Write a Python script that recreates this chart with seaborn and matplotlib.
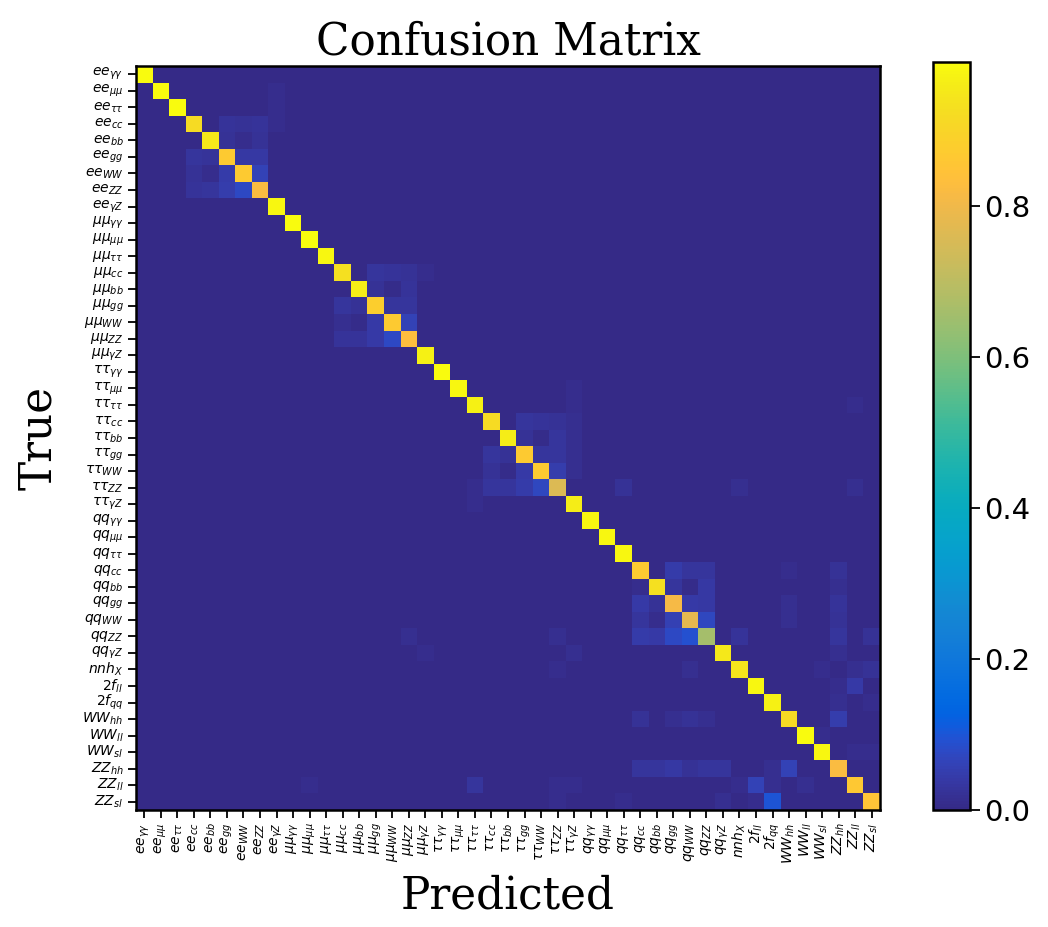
import numpy as np
import pandas as pd
import matplotlib
matplotlib.use('Agg')
import matplotlib.pyplot as plt
from matplotlib.colors import LinearSegmentedColormap
import seaborn as sns

# class labels (mathtext)
prefixes = ['ee', r'\mu\mu', r'\tau\tau', 'qq']
decays = [r'\gamma\gamma', r'\mu\mu', r'\tau\tau', 'cc', 'bb', 'gg', 'WW', 'ZZ', r'\gamma Z']
extra = ['nnh_{X}', '2f_{ll}', '2f_{qq}', 'WW_{hh}', 'WW_{ll}', 'WW_{sl}', 'ZZ_{hh}', 'ZZ_{ll}', 'ZZ_{sl}']
labels = [f'${p}_{{{d}}}$' for p in prefixes for d in decays] + [f'${e}$' for e in extra]

# diagonal (efficiency per class)
diag = [0.99, 0.99, 0.99, 0.92, 0.95, 0.87, 0.87, 0.82, 0.98,
        0.99, 0.99, 0.98, 0.93, 0.96, 0.88, 0.87, 0.83, 0.97,
        0.99, 0.98, 0.97, 0.92, 0.96, 0.87, 0.87, 0.76, 0.96,
        0.98, 0.98, 0.98, 0.87, 0.93, 0.81, 0.78, 0.66, 0.95,
        0.94, 0.98, 0.97, 0.92, 0.99, 0.98, 0.82, 0.86, 0.85]

# off-diagonal confusions: (true row, predicted col, fraction)
off_rows = [1, 2, 3, 3, 3, 3, 4, 4, 4, 5, 5, 5, 5, 6, 6, 6, 6, 7, 7, 7, 7,
            12, 12, 12, 12, 13, 13, 13, 14, 14, 14, 14, 15, 15, 15, 15, 16, 16, 16, 16,
            19, 20, 20, 21, 21, 21, 21, 22, 22, 22, 22, 23, 23, 23, 23, 23, 24, 24, 24, 24, 24,
            25, 25, 25, 25, 25, 25, 25, 25, 26,
            30, 30, 30, 30, 30, 31, 31, 31, 31, 31, 32, 32, 32, 32, 32, 32, 33, 33, 33, 33, 33, 33,
            34, 34, 34, 34, 34, 34, 34, 34, 34, 35, 35, 35, 36, 36, 36, 36, 36,
            37, 37, 38, 38, 39, 39, 39, 39, 39, 40, 41, 41,
            42, 42, 42, 42, 42, 42, 42, 42, 43, 43, 43, 43, 43, 43, 43, 43,
            44, 44, 44, 44, 44]
off_cols = [8, 8, 5, 6, 7, 8, 5, 6, 7, 3, 4, 6, 7, 3, 4, 5, 7, 3, 4, 5, 6,
            14, 15, 16, 17, 14, 15, 16, 12, 13, 15, 16, 12, 13, 14, 16, 12, 13, 14, 15,
            26, 26, 43, 23, 24, 25, 26, 23, 24, 25, 26, 21, 22, 24, 25, 26, 21, 22, 23, 25, 26,
            20, 21, 22, 23, 24, 29, 36, 43, 20,
            32, 33, 34, 39, 42, 30, 32, 33, 34, 42, 30, 31, 33, 34, 39, 42, 30, 31, 32, 34, 39, 42,
            16, 25, 30, 31, 32, 33, 36, 42, 44, 17, 26, 42, 25, 33, 41, 43, 44,
            42, 43, 42, 44, 30, 32, 33, 34, 42, 41, 43, 44,
            30, 31, 32, 33, 34, 35, 38, 39, 10, 20, 25, 26, 36, 37, 38, 40,
            25, 29, 35, 37, 38]
off_vals = [0.008, 0.008, 0.025, 0.02, 0.025, 0.008, 0.02, 0.008, 0.02,
            0.03, 0.025, 0.035, 0.035, 0.02, 0.008, 0.045, 0.06, 0.025, 0.03, 0.05, 0.075,
            0.03, 0.025, 0.02, 0.008, 0.02, 0.005, 0.025, 0.03, 0.02, 0.03, 0.03,
            0.015, 0.005, 0.04, 0.06, 0.025, 0.025, 0.04, 0.075,
            0.008, 0.01, 0.008, 0.03, 0.025, 0.02, 0.012, 0.02, 0.005, 0.03, 0.012,
            0.03, 0.02, 0.03, 0.03, 0.012, 0.02, 0.005, 0.04, 0.05, 0.012,
            0.01, 0.03, 0.03, 0.045, 0.07, 0.02, 0.015, 0.015, 0.01,
            0.045, 0.03, 0.03, 0.01, 0.02, 0.01, 0.03, 0.005, 0.035, 0.015,
            0.04, 0.02, 0.04, 0.035, 0.015, 0.025, 0.03, 0.008, 0.055, 0.07, 0.015, 0.02,
            0.015, 0.015, 0.045, 0.04, 0.075, 0.09, 0.025, 0.03, 0.02,
            0.01, 0.015, 0.015, 0.01, 0.015, 0.01, 0.015, 0.02,
            0.01, 0.04, 0.015, 0.01, 0.02, 0.015, 0.02, 0.015, 0.05,
            0.008, 0.008, 0.01,
            0.03, 0.03, 0.035, 0.02, 0.03, 0.03, 0.015, 0.06,
            0.008, 0.03, 0.01, 0.01, 0.01, 0.06, 0.015, 0.015,
            0.008, 0.008, 0.015, 0.01, 0.1]

# MATLAB parula colour table
parula = [
    [0.2081, 0.1663, 0.5292], [0.2116, 0.1898, 0.5777], [0.2123, 0.2138, 0.6270],
    [0.2081, 0.2386, 0.6771], [0.1959, 0.2645, 0.7279], [0.1707, 0.2919, 0.7792],
    [0.1253, 0.3242, 0.8303], [0.0591, 0.3598, 0.8683], [0.0117, 0.3875, 0.8820],
    [0.0060, 0.4086, 0.8828], [0.0165, 0.4266, 0.8786], [0.0329, 0.4430, 0.8720],
    [0.0498, 0.4586, 0.8641], [0.0629, 0.4737, 0.8554], [0.0723, 0.4887, 0.8467],
    [0.0779, 0.5040, 0.8384], [0.0793, 0.5200, 0.8312], [0.0749, 0.5375, 0.8263],
    [0.0641, 0.5570, 0.8240], [0.0488, 0.5772, 0.8228], [0.0343, 0.5966, 0.8199],
    [0.0265, 0.6137, 0.8135], [0.0239, 0.6287, 0.8038], [0.0231, 0.6418, 0.7913],
    [0.0228, 0.6535, 0.7768], [0.0267, 0.6642, 0.7607], [0.0384, 0.6743, 0.7436],
    [0.0590, 0.6838, 0.7254], [0.0843, 0.6928, 0.7062], [0.1133, 0.7015, 0.6859],
    [0.1453, 0.7098, 0.6646], [0.1801, 0.7177, 0.6424], [0.2178, 0.7250, 0.6193],
    [0.2586, 0.7317, 0.5954], [0.3022, 0.7376, 0.5712], [0.3482, 0.7424, 0.5473],
    [0.3953, 0.7459, 0.5244], [0.4420, 0.7481, 0.5033], [0.4871, 0.7491, 0.4840],
    [0.5300, 0.7491, 0.4661], [0.5709, 0.7485, 0.4494], [0.6099, 0.7473, 0.4337],
    [0.6473, 0.7456, 0.4188], [0.6834, 0.7435, 0.4044], [0.7184, 0.7411, 0.3905],
    [0.7525, 0.7384, 0.3768], [0.7858, 0.7356, 0.3633], [0.8185, 0.7327, 0.3498],
    [0.8507, 0.7299, 0.3360], [0.8824, 0.7274, 0.3217], [0.9139, 0.7258, 0.3063],
    [0.9450, 0.7261, 0.2886], [0.9739, 0.7314, 0.2666], [0.9938, 0.7455, 0.2403],
    [0.9990, 0.7653, 0.2164], [0.9955, 0.7861, 0.1967], [0.9880, 0.8066, 0.1794],
    [0.9789, 0.8271, 0.1633], [0.9697, 0.8481, 0.1475], [0.9626, 0.8705, 0.1309],
    [0.9589, 0.8949, 0.1132], [0.9598, 0.9218, 0.0948], [0.9661, 0.9514, 0.0755],
    [0.9763, 0.9831, 0.0538]]
cmap = LinearSegmentedColormap.from_list('parula', parula, N=256)

n = len(labels)
cm = np.zeros((n, n))
cm[np.arange(n), np.arange(n)] = diag
cm[off_rows, off_cols] = off_vals
df = pd.DataFrame(cm, index=labels, columns=labels)

fig = plt.figure(figsize=(10.48, 9.27), dpi=100)
ax = fig.add_axes([136/1048, 117/927, 744/1048, 744/927])
cax = fig.add_axes([933/1048, 117/927, 37/1048, 748/927])

sns.heatmap(df, ax=ax, cbar_ax=cax, cmap=cmap, vmin=0,
            xticklabels=labels, yticklabels=labels)

for s in ax.spines.values():
    s.set_visible(True)
    s.set_linewidth(1.8)
    s.set_color('black')
ax.tick_params(axis='both', length=6, width=1.3, labelsize=10, pad=3)
ax.set_xticklabels(labels, rotation=90)
ax.set_yticklabels(labels, rotation=0)

ax.set_title('Confusion Matrix', family='DejaVu Serif', fontsize=31.5, pad=8)
ax.set_xlabel('Predicted', family='DejaVu Serif', fontsize=31.5, labelpad=8)
ax.set_ylabel('True', family='DejaVu Serif', fontsize=31.5, labelpad=16)

cb = ax.collections[0].colorbar
cb.outline.set_visible(True)
cb.outline.set_linewidth(1.8)
cb.outline.set_edgecolor('black')
cb.set_ticks([0.0, 0.2, 0.4, 0.6, 0.8])
cb.ax.tick_params(labelsize=21, length=7, width=1.3)

fig.savefig('out.png', dpi=100)
